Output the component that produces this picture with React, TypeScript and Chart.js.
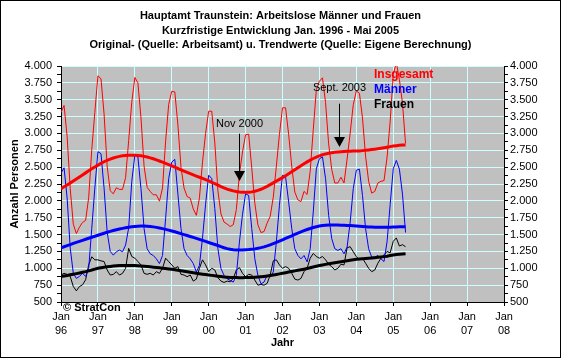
import React, { useEffect, useRef } from 'react';
import { Chart, registerables } from 'chart.js';

Chart.register(...registerables);

// ---- Data (monthly, Jan 1996 .. May 2005) ----
const titleLines = [
  'Hauptamt Traunstein: Arbeitslose Männer und Frauen',
  'Kurzfristige Entwicklung Jan. 1996 - Mai 2005',
  'Original- (Quelle: Arbeitsamt) u. Trendwerte (Quelle: Eigene Berechnung)',
];
const seriesNames = ['Insgesamt', 'Männer', 'Frauen'];
const seriesColors = ['#ff0000', '#0000ff', '#000000'];
const xTickMonth = 'Jan';
const xTickYears = ['96', '97', '98', '99', '00', '01', '02', '03', '04', '05', '06', '07', '08'];

const total = [
  3310, 3415, 2950, 2180, 1655, 1515, 1610, 1680, 1710, 2050, 2760, 3315,
  3855, 3810, 3290, 2515, 2150, 2105, 2195, 2170, 2170, 2345, 2895, 3460,
  3830, 3750, 3230, 2515, 2200, 2140, 2090, 2090, 1995, 2190, 2885, 3430,
  3625, 3615, 3125, 2500, 2190, 2065, 2040, 1880, 1785, 2045, 2575, 3000,
  3330, 3330, 2860, 2150, 1805, 1685, 1655, 1620, 1645, 1870, 2400, 2725,
  2980, 2990, 2490, 1965, 1645, 1530, 1545, 1670, 1770, 2055, 2515, 2985,
  3380, 3380, 2985, 2515, 2130, 2015, 1990, 2140, 2095, 2440, 3055, 3650,
  3775, 3825, 3455, 2845, 2465, 2265, 2265, 2350, 2265, 2620, 3005, 3425,
  3630, 3595, 3230, 2665, 2290, 2115, 2140, 2265, 2290, 2300, 2650, 3180,
  3875, 4050, 3800, 3450, 2850,
];
const men = [
  2410, 2490, 2040, 1300, 925, 850, 880, 925, 880, 1000, 1590, 2190,
  2730, 2700, 2190, 1540, 1250, 1195, 1245, 1270, 1245, 1345, 1600, 2285,
  2680, 2650, 2180, 1590, 1290, 1215, 1190, 1140, 1070, 1190, 1735, 2330,
  2575, 2615, 2100, 1590, 1290, 1190, 1140, 1070, 945, 1045, 1450, 1950,
  2380, 2330, 1885, 1290, 995, 895, 845, 820, 795, 895, 1390, 1800,
  2105, 2080, 1590, 1140, 895, 770, 795, 895, 870, 945, 1390, 1935,
  2380, 2355, 1985, 1590, 1290, 1190, 1140, 1190, 1095, 1290, 1835, 2475,
  2625, 2650, 2330, 1785, 1440, 1290, 1265, 1290, 1215, 1315, 1685, 2180,
  2455, 2470, 2080, 1590, 1290, 1165, 1165, 1190, 1140, 1100, 1400, 1950,
  2475, 2600, 2470, 2100, 1530,
];
const women = [
  900, 925, 910, 880, 730, 665, 730, 755, 830, 1050, 1170, 1125,
  1125, 1110, 1100, 975, 900, 910, 950, 900, 925, 1000, 1295, 1175,
  1150, 1100, 1050, 925, 910, 925, 900, 950, 925, 1000, 1150, 1100,
  1050, 1000, 1025, 910, 900, 875, 900, 810, 840, 1000, 1125, 1050,
  950, 1000, 975, 860, 810, 790, 810, 800, 850, 975, 1010, 925,
  875, 910, 900, 825, 750, 760, 750, 775, 900, 1110, 1125, 1050,
  1000, 1025, 1000, 925, 840, 825, 850, 950, 1000, 1150, 1220, 1175,
  1150, 1175, 1125, 1060, 1025, 975, 1000, 1060, 1050, 1305, 1320, 1245,
  1175, 1125, 1150, 1075, 1000, 950, 975, 1075, 1150, 1200, 1250, 1230,
  1400, 1450, 1330, 1350, 1320,
];
const totalTrend = [
  2180, 2208, 2236, 2264, 2295, 2325, 2355, 2385, 2415, 2445, 2475, 2503,
  2530, 2556, 2580, 2602, 2620, 2636, 2649, 2660, 2668, 2674, 2677, 2678,
  2677, 2673, 2668, 2660, 2650, 2638, 2624, 2608, 2591, 2573, 2555, 2537,
  2518, 2499, 2480, 2461, 2442, 2423, 2404, 2386, 2368, 2350, 2332, 2314,
  2295, 2275, 2255, 2234, 2212, 2192, 2175, 2160, 2148, 2138, 2131, 2128,
  2128, 2128, 2133, 2142, 2155, 2172, 2192, 2215, 2240, 2266, 2292, 2318,
  2345, 2373, 2402, 2432, 2462, 2492, 2521, 2550, 2578, 2604, 2628, 2650,
  2668, 2683, 2696, 2706, 2714, 2720, 2725, 2729, 2732, 2734, 2736, 2738,
  2738, 2741, 2745, 2749, 2754, 2760, 2766, 2773, 2780, 2788, 2796, 2804,
  2812, 2818, 2823, 2827, 2830,
];
const menTrend = [
  1305, 1320, 1335, 1350, 1370, 1385, 1400, 1415, 1430, 1445, 1460, 1475,
  1490, 1505, 1520, 1535, 1548, 1560, 1572, 1583, 1592, 1600, 1608, 1615,
  1621, 1625, 1627, 1627, 1625, 1620, 1614, 1607, 1598, 1588, 1577, 1566,
  1554, 1541, 1528, 1514, 1500, 1486, 1472, 1458, 1443, 1428, 1413, 1398,
  1383, 1368, 1353, 1338, 1320, 1305, 1292, 1282, 1275, 1271, 1270, 1271,
  1274, 1277, 1282, 1288, 1296, 1306, 1318, 1332, 1348, 1365, 1383, 1402,
  1422, 1442, 1462, 1482, 1502, 1521, 1540, 1558, 1575, 1590, 1604, 1616,
  1626, 1634, 1639, 1642, 1643, 1643, 1642, 1640, 1638, 1636, 1633, 1630,
  1627, 1624, 1620, 1617, 1614, 1612, 1610, 1609, 1608, 1608, 1609, 1610,
  1612, 1614, 1615, 1616, 1617,
];
const womenTrend = [
  876, 885, 894, 903, 912, 921, 930, 940, 950, 962, 975, 988,
  1000, 1008, 1015, 1022, 1028, 1033, 1037, 1040, 1042, 1043, 1043, 1042,
  1040, 1038, 1035, 1031, 1027, 1022, 1017, 1012, 1007, 1002, 997, 991,
  985, 978, 970, 962, 955, 948, 940, 933, 926, 920, 913, 907,
  901, 895, 889, 883, 877, 872, 868, 865, 863, 862, 861, 861,
  862, 863, 865, 867, 870, 874, 879, 885, 892, 900, 908, 917,
  926, 935, 944, 953, 962, 970, 978, 987, 997, 1008, 1019, 1030,
  1040, 1049, 1058, 1067, 1075, 1083, 1090, 1097, 1104, 1111, 1118, 1125,
  1133, 1138, 1142, 1146, 1150, 1154, 1158, 1162, 1167, 1173, 1180, 1189,
  1198, 1203, 1208, 1213, 1217,
];

// annotations: x in months since Jan 1996, y in data units
const notes = [
  { text: 'Nov 2000', month: 58, textValue: 3147, fromValue: 2996, tipValue: 2294 },
  { text: 'Sept. 2003', month: 90.5, textValue: 3674, fromValue: 3441, tipValue: 2799 },
];
const copyright = '© StratCon';

const FONT = '"Liberation Sans", Arial, sans-serif';

const fmtThousands = (v: number) =>
  v >= 1000 ? `${Math.floor(v / 1000)}.${String(v % 1000).padStart(3, '0')}` : String(v);

const pts = (arr: number[]) => arr.map((y, i) => ({ x: i, y }));

const decoPlugin = {
  id: 'deco',
  beforeDraw(chart: any) {
    const { ctx, chartArea: a, width, height } = chart;
    ctx.save();
    ctx.fillStyle = '#ffffff';
    ctx.fillRect(0, 0, width, height);
    ctx.fillStyle = '#c0c0c0';
    ctx.fillRect(a.left, a.top, a.right - a.left, a.bottom - a.top);
    ctx.restore();
  },
  afterDatasetsDraw(chart: any) {
    const { ctx, chartArea: a, scales } = chart;
    const xs = scales.x;
    const ys = scales.y;
    ctx.save();
    // legend
    ctx.font = `bold 12px ${FONT}`;
    ctx.textAlign = 'left';
    ctx.textBaseline = 'middle';
    seriesNames.forEach((n, i) => {
      ctx.fillStyle = seriesColors[i];
      ctx.fillText(n, a.right - 130, a.top + 9 + i * 15);
    });
    // annotations
    ctx.font = `11px ${FONT}`;
    ctx.textAlign = 'center';
    ctx.fillStyle = '#000';
    ctx.strokeStyle = '#000';
    ctx.lineWidth = 1;
    notes.forEach((n) => {
      const x = Math.round(xs.getPixelForValue(n.month)) + 0.5;
      ctx.fillText(n.text, x, ys.getPixelForValue(n.textValue));
      const y0 = ys.getPixelForValue(n.fromValue);
      const tip = ys.getPixelForValue(n.tipValue);
      ctx.beginPath();
      ctx.moveTo(x, y0);
      ctx.lineTo(x, tip - 9);
      ctx.stroke();
      ctx.beginPath();
      ctx.moveTo(x - 5.5, tip - 10);
      ctx.lineTo(x + 5.5, tip - 10);
      ctx.lineTo(x, tip);
      ctx.closePath();
      ctx.fill();
    });
    ctx.restore();
  },
  afterDraw(chart: any) {
    const { ctx, chartArea: a, width, height } = chart;
    ctx.save();
    ctx.font = `bold 11px ${FONT}`;
    ctx.fillStyle = '#000';
    ctx.textAlign = 'left';
    ctx.textBaseline = 'middle';
    ctx.fillText(copyright, a.left + 2, a.bottom + 6);
    ctx.strokeStyle = '#000';
    ctx.lineWidth = 1;
    ctx.strokeRect(0.5, 0.5, width - 1, height - 1);
    ctx.restore();
  },
};

export default function App() {
  const ref = useRef<HTMLCanvasElement | null>(null);

  useEffect(() => {
    if (!ref.current) return;
    Chart.defaults.font.family = FONT;
    Chart.defaults.color = '#000';

    const line = (data: number[], color: string, width: number, order: number, label: string) => ({
      label,
      data: pts(data),
      borderColor: color,
      backgroundColor: color,
      borderWidth: width,
      pointRadius: 0,
      tension: 0,
      fill: false,
      clip: 0,
      order,
      yAxisID: 'y',
    });

    const yGridColor = (c: any) =>
      c.tick && c.tick.value % 250 === 0 && c.tick.value !== 500 ? '#ccffff' : 'rgba(0,0,0,0)';

    const yTicks = {
      stepSize: 125,
      autoSkip: false,
      font: { size: 11 },
      color: '#000',
      callback: (v: any) => (Number(v) % 250 === 0 ? fmtThousands(Number(v)) : ''),
    };

    const chart = new Chart(ref.current, {
      type: 'line',
      data: {
        datasets: [
          line(totalTrend, seriesColors[0], 3, 1, seriesNames[0] + ' Trend'),
          line(menTrend, seriesColors[1], 3, 1, seriesNames[1] + ' Trend'),
          line(womenTrend, seriesColors[2], 3, 1, seriesNames[2] + ' Trend'),
          line(total, seriesColors[0], 1, 2, seriesNames[0]),
          line(men, seriesColors[1], 1, 2, seriesNames[1]),
          line(women, seriesColors[2], 1, 2, seriesNames[2]),
        ],
      },
      options: {
        responsive: false,
        animation: false,
        events: [],
        layout: { padding: 0 },
        plugins: {
          legend: { display: false },
          tooltip: { enabled: false },
          title: {
            display: true,
            text: titleLines,
            color: '#000',
            font: { size: 11, weight: 'bold', lineHeight: '14.5px' },
            padding: { top: 8.75, bottom: 13.75 },
          },
        },
        scales: {
          x: {
            type: 'linear',
            min: 0,
            max: 144,
            afterFit: (s: any) => {
              s.height = 56;
            },
            ticks: {
              stepSize: 12,
              autoSkip: false,
              maxRotation: 0,
              minRotation: 0,
              padding: 4,
              color: '#000',
              font: { size: 11, lineHeight: '14px' },
              callback: (v: any) => [xTickMonth, xTickYears[Math.round(Number(v) / 12)]],
            },
            grid: {
              color: (c: any) =>
                c.tick && (c.tick.value === 0 || c.tick.value === 144) ? 'rgba(0,0,0,0)' : '#ccffff',
              tickColor: '#000',
              tickLength: 4,
              lineWidth: 1,
            },
            border: { display: true, color: '#000', width: 1 },
            title: {
              display: true,
              text: 'Jahr',
              color: '#000',
              font: { size: 11, weight: 'bold' },
              padding: { top: 0, bottom: 8.4 },
            },
          },
          y: {
            type: 'linear',
            position: 'left',
            min: 500,
            max: 4000,
            afterFit: (s: any) => {
              s.width = 61;
            },
            ticks: { ...yTicks, padding: 5 },
            grid: { color: yGridColor, tickColor: '#000', tickLength: 4, lineWidth: 1 },
            border: { display: true, color: '#000', width: 1 },
            title: {
              display: true,
              text: 'Anzahl Personen',
              color: '#000',
              font: { size: 11, weight: 'bold' },
              padding: { top: 8.4, bottom: 0 },
            },
          },
          y2: {
            type: 'linear',
            position: 'right',
            min: 500,
            max: 4000,
            afterFit: (s: any) => {
              s.width = 57;
            },
            ticks: { ...yTicks, padding: 2 },
            grid: { drawOnChartArea: false, color: '#000', tickColor: '#000', tickLength: 4 },
            border: { display: true, color: '#000', width: 1 },
          },
        },
      } as any,
      plugins: [decoPlugin],
    });

    return () => chart.destroy();
  }, []);

  return (
    <div style={{ position: 'absolute', left: 0, top: 0, width: 561, height: 358 }}>
      <canvas ref={ref} width={561} height={358} style={{ display: 'block' }} />
    </div>
  );
}
